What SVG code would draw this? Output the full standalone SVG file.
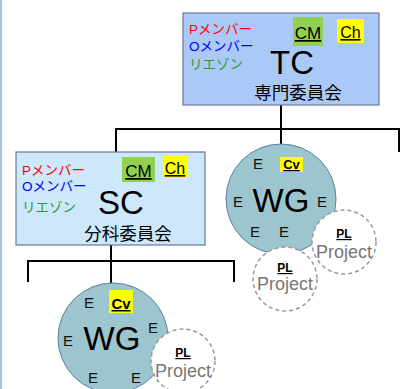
<svg xmlns="http://www.w3.org/2000/svg" width="402" height="389" viewBox="0 0 402 389">
<style>
.jp{font-family:"Liberation Sans","Noto Sans CJK JP",sans-serif}
.s{font-family:"Liberation Sans",Arial,sans-serif}
.p{fill:#ff0000;font-size:13.5px}
.o{fill:#0000ff;font-size:13.5px}
.l{fill:#2e9a2e;font-size:13.5px}
.big{font-size:33px;fill:#000;text-anchor:middle}
.cm{fill:#92d050}
.ch{fill:#ffff00}
.u{text-decoration:underline;text-anchor:middle;fill:#000}
.e{font-size:15px;fill:#111}
.wg{fill:#9cc5cd;stroke:#5b7fa6;stroke-width:1}
.pj{fill:#fff;stroke:#999;stroke-width:1.5;stroke-dasharray:4 3}
.pl{font-size:12px;font-weight:bold;text-decoration:underline;text-anchor:middle;fill:#000}
.pt{font-size:18px;fill:#777;text-anchor:middle}
.con{fill:none;stroke:#000;stroke-width:2}
</style>
<line x1="1" y1="0" x2="1" y2="389" stroke="#a4c2e3" stroke-width="2"/>
<g id="connectors">
<path class="con" d="M281 105V129M116 152V129H399V152M281 129V145"/>
<path class="con" d="M111 245V284M28 282V261H234V282"/>
</g>
<g id="TC">
<rect x="183" y="13" width="196" height="92" fill="#aac9f6" stroke="#6b7a99" stroke-width="1.2"/>
<text class="jp p" x="189" y="34">Pメンバー</text>
<text class="jp o" x="189" y="51">Oメンバー</text>
<text class="jp l" x="189" y="69">リエゾン</text>
<rect class="cm" x="293" y="17" width="30" height="29"/>
<text class="s u" x="308" y="39" font-size="17">CM</text>
<rect class="ch" x="337" y="19" width="27" height="24"/>
<text class="s u" x="350.5" y="38" font-size="16">Ch</text>
<text class="s big" x="292" y="74">TC</text>
<text class="jp" x="298" y="99" font-size="17.5" text-anchor="middle">専門委員会</text>
</g>
<g id="SC">
<rect x="16" y="152" width="189" height="93" fill="#cde7fb" stroke="#6b7a99" stroke-width="1.2"/>
<text class="jp p" x="22" y="175">Pメンバー</text>
<text class="jp o" x="22" y="191">Oメンバー</text>
<text class="jp l" x="22" y="212">リエゾン</text>
<rect class="cm" x="122" y="157" width="33" height="25"/>
<text class="s u" x="138.5" y="177" font-size="17">CM</text>
<rect class="ch" x="163" y="155" width="24" height="23"/>
<text class="s u" x="175" y="174" font-size="16">Ch</text>
<text class="s big" x="121" y="214">SC</text>
<text class="jp" x="128" y="240" font-size="17.5" text-anchor="middle">分科委員会</text>
</g>
<g id="WG1">
<circle class="wg" cx="281" cy="199" r="55"/>
<rect class="ch" x="280" y="157" width="23" height="15"/>
<text class="s u" x="291.5" y="169" font-size="13" font-weight="bold">Cv</text>
<text class="s e" x="253" y="169">E</text>
<text class="s e" x="233" y="207">E</text>
<text class="s e" x="317" y="207">E</text>
<text class="s e" x="250" y="237">E</text>
<text class="s e" x="279" y="237">E</text>
<text class="s big" x="281" y="212">WG</text>
</g>
<g id="P1">
<circle class="pj" cx="344" cy="242" r="32"/>
<text class="s pl" x="344" y="238">PL</text>
<text class="s pt" x="344" y="258">Project</text>
</g>
<g id="P2">
<circle class="pj" cx="285" cy="279" r="32"/>
<text class="s pl" x="285" y="272">PL</text>
<text class="s pt" x="285" y="290">Project</text>
</g>
<g id="WG2">
<circle class="wg" cx="113" cy="338" r="55"/>
<rect class="ch" x="109" y="290" width="24" height="23"/>
<text class="s u" x="121" y="309" font-size="15" font-weight="bold">Cv</text>
<text class="s e" x="84" y="308">E</text>
<text class="s e" x="63" y="346">E</text>
<text class="s e" x="148" y="333">E</text>
<text class="s e" x="88" y="383">E</text>
<text class="s e" x="131" y="383">E</text>
<text class="s big" x="112" y="350">WG</text>
</g>
<g id="P3">
<circle class="pj" cx="183" cy="361" r="32"/>
<text class="s pl" x="183" y="357">PL</text>
<text class="s pt" x="183" y="377">Project</text>
</g>
</svg>
